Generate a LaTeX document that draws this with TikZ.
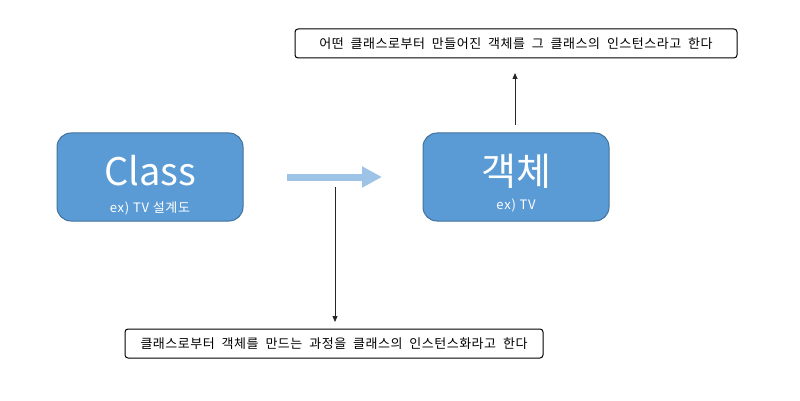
\documentclass[tikz,border=0pt]{standalone}
\usepackage{fontspec}
\setmainfont{Noto Sans CJK KR}
\newfontfamily\notefont[LetterSpace=4,WordSpace=2]{Noto Sans CJK KR}
\newfontfamily\smallfont[LetterSpace=6]{Noto Sans CJK KR}
\usetikzlibrary{arrows.meta}
\definecolor{boxfill}{HTML}{5B9BD5}
\definecolor{boxline}{HTML}{41719C}
\definecolor{bigarrow}{HTML}{9DC3E6}
\tikzset{
  bluebox/.style={draw=boxline, line width=1pt, fill=boxfill, rounded corners=14pt, minimum width=186pt, minimum height=88pt, inner sep=0pt},
  notebox/.style={draw=black, line width=1pt, fill=white, rounded corners=3pt, minimum height=29pt, inner sep=0pt, font=\notefont\fontsize{13}{15}\selectfont},
  bigtxt/.style={text=white, font=\fontsize{38}{42}\selectfont, inner sep=0pt},
  smalltxt/.style={text=white, font=\smallfont\fontsize{13}{15}\selectfont, inner sep=0pt},
  thinarrow/.style={draw=black!85, line width=0.8pt, -{Triangle[length=6pt,width=5pt]}}
}
\begin{document}
\begin{tikzpicture}[x=1pt,y=-1pt]
\useasboundingbox (0,0) rectangle (800,401);
\node[bluebox] (cls) at (150,177) {};
\node[bigtxt] (clst) at (150,171) {Class};
\node[smalltxt] (clss) at (150,208) {ex) TV 설계도};
\node[bluebox] (obj) at (516,177) {};
\node[bigtxt] (objt) at (516,171) {객체};
\node[smalltxt] (objs) at (516,205) {ex) TV};
\node[notebox, minimum width=442pt] (top) at (516,43.5) {어떤 클래스로부터 만들어진 객체를 그 클래스의 인스턴스라고 한다};
\node[notebox, minimum width=418pt] (bot) at (334,343.5) {클래스로부터 객체를 만드는 과정을 클래스의 인스턴스화라고 한다};
\coordinate (a1) at (287,177);
\coordinate (a2) at (382,177);
\draw[bigarrow, line width=7pt, -{Triangle[length=20pt,width=20pt]}] (a1) -- (a2);
\coordinate (d1) at (335,187);
\coordinate (d2) at (335,322);
\draw[thinarrow] (d1) -- (d2);
\coordinate (u1) at (515,125);
\coordinate (u2) at (515,73);
\draw[thinarrow] (u1) -- (u2);
\end{tikzpicture}
\end{document}
